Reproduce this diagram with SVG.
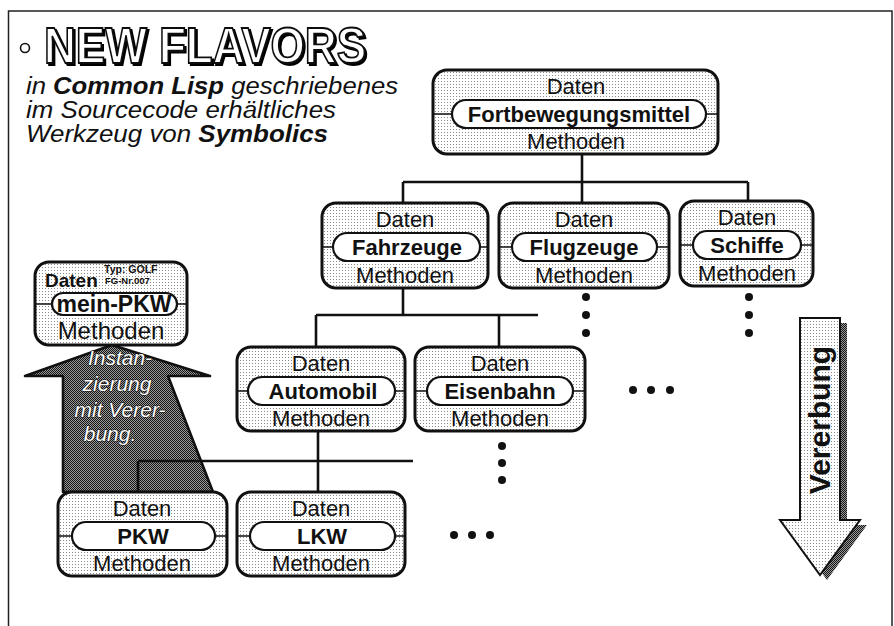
<svg xmlns="http://www.w3.org/2000/svg" width="894" height="626" viewBox="0 0 894 626">
<style>
text{font-family:"Liberation Sans",Arial,Helvetica,sans-serif;fill:#111}
.box{fill:url(#lt);stroke:#111;stroke-width:3}
.pill{fill:#fff;stroke:#111;stroke-width:2.2}
.stub{stroke:#111;stroke-width:1.6}
.t{font-size:22px;text-anchor:middle}
.tb{font-size:22px;font-weight:bold;text-anchor:middle}
.sub{font-size:23px;font-style:italic}
.con{stroke:#111;stroke-width:2.6;fill:none}
.dot{fill:#111}
.inst{font-size:21px;font-style:italic;text-anchor:middle;fill:#fff;stroke:#111;stroke-width:1.1;paint-order:stroke}
</style>
<defs>
<pattern id="lt" width="3" height="3" patternUnits="userSpaceOnUse"><rect width="3" height="3" fill="#fff"/><rect width="1" height="1" fill="#8a8a8a"/></pattern>
<pattern id="dk" width="2" height="2" patternUnits="userSpaceOnUse"><rect width="2" height="2" fill="#9a9a9a"/><rect width="1" height="1" fill="#141414"/><rect x="1" y="1" width="1" height="1" fill="#141414"/></pattern>
<filter id="sh" x="-5%" y="-20%" width="110%" height="140%"><feOffset in="SourceAlpha" dx="2" dy="2" result="o"/><feMerge><feMergeNode in="o"/><feMergeNode in="SourceGraphic"/></feMerge></filter>
</defs>

<!-- frame -->
<path d="M8.5,626 V11 H892 V626" fill="none" stroke="#222" stroke-width="1.5"/>

<!-- title -->
<g id="title">
<circle cx="25" cy="48" r="4.5" fill="#fff" stroke="#111" stroke-width="1.6"/>
<text x="44" y="63" font-size="50" font-weight="bold" textLength="322" lengthAdjust="spacingAndGlyphs" stroke="#111" stroke-width="1.8" style="fill:#fff" filter="url(#sh)">NEW FLAVORS</text>
<text class="sub" x="26" y="94" textLength="372" lengthAdjust="spacingAndGlyphs">in <tspan font-weight="bold">Common Lisp</tspan> geschriebenes</text>
<text class="sub" x="26" y="118" textLength="310" lengthAdjust="spacingAndGlyphs">im Sourcecode erhältliches</text>
<text class="sub" x="26" y="142" textLength="302" lengthAdjust="spacingAndGlyphs">Werkzeug von <tspan font-weight="bold">Symbolics</tspan></text>
</g>

<!-- instantiation arrow -->
<g id="instanzierung">
<polygon points="112,345 210,376 168,376 213,492 63,492 63,376 25,376" fill="url(#dk)" stroke="#111" stroke-width="2.6" stroke-linejoin="round"/>
<text class="inst" x="120" y="365">Instan-</text>
<text class="inst" x="117" y="391">zierung</text>
<text class="inst" x="120" y="417">mit Verer-</text>
<text class="inst" x="110" y="441">bung.</text>
</g>

<!-- connectors -->
<g id="connectors">
<path class="con" d="M582,154 V182 M403,182 H748 M403,182 V203 M582,182 V203 M748,182 V201"/>
<path class="con" d="M403,288 V315 M316,315 H538 M316,315 V347 M499,315 V347"/>
<path class="con" d="M318,431 V492 M138,461 H413 M138,461 V492"/>
<circle class="dot" cx="586" cy="297" r="4"/><circle class="dot" cx="586" cy="315" r="4"/><circle class="dot" cx="586" cy="333" r="4"/>
<circle class="dot" cx="749" cy="297" r="4"/><circle class="dot" cx="749" cy="315" r="4"/><circle class="dot" cx="749" cy="333" r="4"/>
<circle class="dot" cx="502" cy="446" r="4"/><circle class="dot" cx="502" cy="463" r="4"/><circle class="dot" cx="502" cy="480" r="4"/>
<circle class="dot" cx="633" cy="390" r="4"/><circle class="dot" cx="651" cy="390" r="4"/><circle class="dot" cx="670" cy="390" r="4"/>
<circle class="dot" cx="454" cy="535" r="4"/><circle class="dot" cx="472" cy="535" r="4"/><circle class="dot" cx="490" cy="535" r="4"/>
</g>

<!-- nodes -->
<g id="n-fortbewegungsmittel">
<rect class="box" x="433" y="70" width="285" height="84" rx="14"/>
<path class="stub" d="M433,114 H452 M706,114 H718"/>
<rect class="pill" x="452" y="100" width="254" height="28" rx="14"/>
<text class="t" x="576" y="94">Daten</text>
<text class="tb" x="579" y="122">Fortbewegungsmittel</text>
<text class="t" x="576" y="149">Methoden</text>
</g>

<g id="n-fahrzeuge">
<rect class="box" x="322" y="203" width="166" height="85" rx="14"/>
<path class="stub" d="M322,247 H333 M480,247 H488"/>
<rect class="pill" x="333" y="233" width="147" height="28" rx="14"/>
<text class="t" x="405" y="227">Daten</text>
<text class="tb" x="407" y="255">Fahrzeuge</text>
<text class="t" x="405" y="283">Methoden</text>
</g>

<g id="n-flugzeuge">
<rect class="box" x="499" y="203" width="170" height="85" rx="14"/>
<path class="stub" d="M499,247 H512 M657,247 H669"/>
<rect class="pill" x="512" y="233" width="145" height="28" rx="14"/>
<text class="t" x="584" y="227">Daten</text>
<text class="tb" x="584" y="255">Flugzeuge</text>
<text class="t" x="584" y="283">Methoden</text>
</g>

<g id="n-schiffe">
<rect class="box" x="680" y="201" width="133" height="85" rx="14"/>
<path class="stub" d="M680,245 H693 M801,245 H813"/>
<rect class="pill" x="693" y="231" width="108" height="28" rx="14"/>
<text class="t" x="747" y="225">Daten</text>
<text class="tb" x="747" y="253">Schiffe</text>
<text class="t" x="747" y="281">Methoden</text>
</g>

<g id="n-automobil">
<rect class="box" x="237" y="347" width="168" height="84" rx="14"/>
<path class="stub" d="M237,391 H248 M395,391 H405"/>
<rect class="pill" x="248" y="377" width="147" height="28" rx="14"/>
<text class="t" x="321" y="371">Daten</text>
<text class="tb" x="323" y="399">Automobil</text>
<text class="t" x="321" y="426">Methoden</text>
</g>

<g id="n-eisenbahn">
<rect class="box" x="415" y="347" width="170" height="84" rx="14"/>
<path class="stub" d="M415,391 H427 M573,391 H585"/>
<rect class="pill" x="427" y="377" width="146" height="28" rx="14"/>
<text class="t" x="500" y="371">Daten</text>
<text class="tb" x="500" y="399">Eisenbahn</text>
<text class="t" x="500" y="426">Methoden</text>
</g>

<g id="n-pkw">
<rect class="box" x="58" y="492" width="169" height="84" rx="14"/>
<path class="stub" d="M58,536 H72 M215,536 H227"/>
<rect class="pill" x="72" y="522" width="143" height="28" rx="14"/>
<text class="t" x="142" y="516">Daten</text>
<text class="tb" x="143" y="544">PKW</text>
<text class="t" x="142" y="571">Methoden</text>
</g>

<g id="n-lkw">
<rect class="box" x="237" y="492" width="168" height="84" rx="14"/>
<path class="stub" d="M237,536 H250 M395,536 H405"/>
<rect class="pill" x="250" y="522" width="145" height="28" rx="14"/>
<text class="t" x="321" y="516">Daten</text>
<text class="tb" x="322" y="544">LKW</text>
<text class="t" x="321" y="571">Methoden</text>
</g>

<g id="n-mein-pkw">
<rect class="box" x="35" y="262" width="152" height="83" rx="14"/>
<path class="stub" d="M35,304 H52 M177,304 H187"/>
<rect class="pill" x="52" y="293" width="125" height="22" rx="11"/>
<text x="45" y="287" font-size="19" font-weight="bold">Daten</text>
<text x="104" y="273" font-size="10.5" font-weight="bold">Typ: GOLF</text>
<text x="105" y="284" font-size="9.5" font-weight="bold">FG-Nr.007</text>
<text x="114" y="312" font-size="23" font-weight="bold" text-anchor="middle">mein-PKW</text>
<text x="111" y="339" font-size="24" text-anchor="middle">Methoden</text>
</g>

<!-- Vererbung arrow -->
<g id="vererbung">
<polygon points="807,323 847,323 847,525 867,525 827,580 787,525 807,525" fill="url(#dk)"/>
<polygon points="800,318 840,318 840,520 860,520 820,575 780,520 800,520" fill="url(#lt)" stroke="#111" stroke-width="2" stroke-linejoin="miter"/>
<text transform="translate(830,420) rotate(-90)" font-size="30" font-weight="bold" text-anchor="middle">Vererbung</text>
</g>
</svg>
